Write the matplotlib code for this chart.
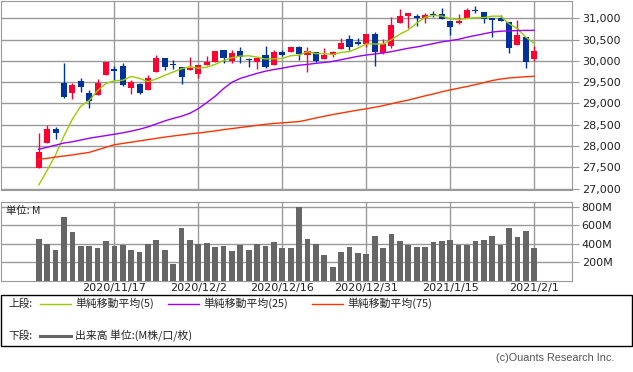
import numpy as np
import matplotlib.pyplot as plt
from matplotlib.patches import Rectangle
from matplotlib.lines import Line2D

# trading days (US), one candle each
dates = ['2020/11/4', '2020/11/5', '2020/11/6', '2020/11/9', '2020/11/10', '2020/11/11', '2020/11/12',
         '2020/11/13', '2020/11/16', '2020/11/17', '2020/11/18', '2020/11/19', '2020/11/20', '2020/11/23',
         '2020/11/24', '2020/11/25', '2020/11/27', '2020/11/30', '2020/12/1', '2020/12/2', '2020/12/3',
         '2020/12/4', '2020/12/7', '2020/12/8', '2020/12/9', '2020/12/10', '2020/12/11', '2020/12/14',
         '2020/12/15', '2020/12/16', '2020/12/17', '2020/12/18', '2020/12/21', '2020/12/22', '2020/12/23',
         '2020/12/24', '2020/12/28', '2020/12/29', '2020/12/30', '2020/12/31', '2021/1/4', '2021/1/5',
         '2021/1/6', '2021/1/7', '2021/1/8', '2021/1/11', '2021/1/12', '2021/1/13', '2021/1/14',
         '2021/1/15', '2021/1/19', '2021/1/20', '2021/1/21', '2021/1/22', '2021/1/25', '2021/1/26',
         '2021/1/27', '2021/1/28', '2021/1/29', '2021/2/1']

opens = [27494, 28081, 28402, 29483, 29248, 29530, 29240, 29201, 29671, 29812,
         29883, 29366, 29460, 29327, 29750, 30071, 29930, 29859, 29797, 29703,
         29914, 29977, 30259, 30000, 30235, 30047, 29977, 30141, 29906, 30212,
         30212, 30329, 30141, 30212, 30047, 30141, 30282, 30517, 30423, 30400,
         30635, 30188, 30353, 30893, 31058, 31042, 31011, 31105, 31105, 30941,
         30893, 31011, 31207, 31152, 31011, 31011, 30917, 30376, 30564, 30047]
highs = [28316, 28504, 28449, 29961, 29483, 29601, 29319, 29577, 29985, 29891,
         29953, 29546, 29483, 29664, 30141, 30071, 30024, 29870, 30094, 29906,
         30118, 30235, 30259, 30259, 30329, 30071, 30079, 30361, 30259, 30259,
         30329, 30353, 30329, 30212, 30306, 30235, 30541, 30612, 30541, 30635,
         30682, 30517, 31034, 31223, 31129, 31105, 31129, 31176, 31246, 30941,
         31105, 31246, 31293, 31152, 31011, 31081, 30917, 30964, 30564, 30353]
lows = [27494, 28081, 28175, 29139, 29107, 29272, 28896, 29201, 29671, 29554,
        29413, 29225, 29225, 29327, 29750, 29797, 29812, 29468, 29797, 29609,
        29914, 29977, 29953, 29953, 29953, 29859, 29812, 29836, 29906, 30118,
        30212, 30024, 29750, 29977, 30047, 30094, 30282, 30259, 30376, 30329,
        29883, 30165, 30306, 30893, 30776, 30823, 30893, 31034, 30988, 30612,
        30870, 31011, 31129, 30893, 30564, 30941, 30188, 30376, 29836, 30000]
closes = [27854, 28402, 28316, 29154, 29436, 29389, 29060, 29483, 29985, 29765,
          29436, 29515, 29256, 29601, 30071, 29867, 29910, 29632, 29844, 29906,
          29977, 30235, 30079, 30188, 30094, 30016, 30079, 29852, 30212, 30141,
          30329, 30165, 30235, 30000, 30141, 30212, 30423, 30329, 30408, 30635,
          30212, 30400, 30846, 31058, 31129, 31019, 31081, 31074, 30988, 30800,
          30941, 31199, 31176, 30988, 30964, 30941, 30306, 30612, 29977, 30235]

sma5 = [27085, 27430, 27790, 28240, 28632, 28939, 29071, 29304, 29471, 29536,
        29546, 29637, 29591, 29515, 29576, 29662, 29741, 29816, 29865, 29832,
        29854, 29919, 30008, 30077, 30115, 30122, 30091, 30046, 30051, 30060,
        30123, 30140, 30216, 30174, 30174, 30151, 30202, 30221, 30303, 30401,
        30401, 30397, 30500, 30630, 30729, 30890, 31027, 31072, 31058, 30992,
        30977, 31000, 31021, 31021, 31054, 31054, 30875, 30762, 30560, 30414]
sma25 = [27924, 27970, 28020, 28070, 28100, 28140, 28183, 28215, 28245, 28277,
         28310, 28350, 28394, 28450, 28520, 28590, 28650, 28700, 28770, 28880,
         29020, 29170, 29350, 29500, 29590, 29650, 29710, 29760, 29800, 29830,
         29870, 29900, 29920, 29945, 29965, 29990, 30030, 30070, 30110, 30140,
         30165, 30190, 30220, 30260, 30300, 30330, 30370, 30410, 30450, 30480,
         30510, 30560, 30600, 30640, 30680, 30700, 30710, 30715, 30720, 30720]
sma75 = [27690, 27710, 27740, 27765, 27790, 27820, 27850, 27910, 27970, 28030,
         28060, 28090, 28120, 28150, 28180, 28210, 28235, 28260, 28285, 28305,
         28330, 28355, 28385, 28410, 28435, 28460, 28485, 28510, 28530, 28545,
         28560, 28575, 28615, 28660, 28700, 28740, 28775, 28810, 28845, 28875,
         28910, 28950, 28995, 29040, 29080, 29130, 29180, 29225, 29275, 29320,
         29360, 29400, 29445, 29490, 29540, 29575, 29600, 29615, 29630, 29640]

volume = [452, 401, 333, 691, 528, 376, 376, 354, 430, 376,
          387, 333, 311, 401, 441, 333, 181, 571, 441, 401,
          409, 365, 376, 322, 387, 333, 401, 376, 420, 354,
          354, 803, 452, 401, 278, 148, 311, 365, 300, 289,
          485, 354, 506, 430, 387, 365, 365, 420, 430, 441,
          387, 387, 430, 441, 485, 387, 571, 474, 539, 354]

UP = '#ff0033'
DOWN = '#003399'
GRID = '#999999'
JP = ['Noto Sans CJK JP', 'DejaVu Sans']

W, H = 633, 372
fig = plt.figure(figsize=(W / 100, H / 100), dpi=100)
ax = fig.add_axes([1 / W, 1 - 190 / H, 571 / W, 189.5 / H])
vax = fig.add_axes([1 / W, 1 - 280.5 / H, 571 / W, 78.8 / H], sharex=ax)

x = np.arange(len(closes))
o = np.array(opens)
c = np.array(closes)
colors = [UP if cc >= oo else DOWN for oo, cc in zip(o, c)]

# candles
ax.vlines(x, lows, highs, colors=colors, lw=1.0, zorder=3)
ax.bar(x, np.maximum(np.abs(c - o), 28), bottom=np.minimum(o, c), width=0.72,
       color=colors, zorder=3)

# moving averages
ax.plot(x, sma5, color='#99cc00', lw=1.0, zorder=4)
ax.plot(x, sma25, color='#9900ff', lw=1.0, zorder=4)
ax.plot(x, sma75, color='#ff3300', lw=1.0, zorder=4)

tick_idx = [i for i in x if i % 10 == 9]

ax.set_xlim(-4.5, 63.5)
ax.set_ylim(26965, 31423)
ax.set_yticks(range(27000, 31001, 500))
ax.set_yticklabels(['{:,}'.format(v) for v in range(27000, 31001, 500)])
ax.set_xticks(tick_idx)
ax.grid(True, color=GRID, lw=1.0, zorder=0)
ax.yaxis.tick_right()
ax.tick_params(axis='y', length=5, color=GRID, pad=2, labelsize=8, labelcolor='#222222')
ax.tick_params(axis='x', length=0, labelbottom=False)

# volume
vax.bar(x, volume, width=0.68, color='#666666', zorder=3)
vax.set_ylim(0, 858)
vax.set_yticks([200, 400, 600, 800])
vax.set_yticklabels(['200M', '400M', '600M', '800M'])
vax.set_xticks(tick_idx)
vax.set_xticklabels([dates[i] for i in tick_idx])
vax.grid(True, color=GRID, lw=1.0, zorder=0)
vax.yaxis.tick_right()
vax.tick_params(axis='y', length=5, color=GRID, pad=2, labelsize=8, labelcolor='#222222')
vax.tick_params(axis='x', length=0, pad=2, labelsize=8, labelcolor='#222222')
vax.text(0.008, 0.95, '単位: M', transform=vax.transAxes, ha='left', va='top',
         fontsize=7.5, family=JP, color='#222222')

for a in (ax, vax):
    for s in a.spines.values():
        s.set_color(GRID)

# legend box
fig.patches.append(Rectangle((0.5 / W, 1 - 346 / H), 631.5 / W, 51 / H, transform=fig.transFigure,
                             fill=False, edgecolor='black', lw=1.0))
row1 = 1 - 303.5 / H
row2 = 1 - 336 / H
fig.text(8 / W, row1, '上段:', fontsize=7.7, family=JP, va='center', color='#222222')
fig.text(8 / W, row2, '下段:', fontsize=7.7, family=JP, va='center', color='#222222')
items = [(40, '#99cc00', '単純移動平均(5)'), (168, '#9900ff', '単純移動平均(25)'),
         (312, '#ff3300', '単純移動平均(75)')]
for x0, col, label in items:
    fig.lines.append(Line2D([x0 / W, (x0 + 31) / W], [row1, row1], transform=fig.transFigure,
                            color=col, lw=1.0))
    fig.text((x0 + 35) / W, row1, label, fontsize=7.8, family=JP, va='center', color='#222222')
fig.lines.append(Line2D([40 / W, 71 / W], [row2, row2], transform=fig.transFigure,
                        color='#666666', lw=2.2))
fig.text(75 / W, row2, '出来高 単位:(M株/口/枚)', fontsize=7.8, family=JP, va='center', color='#222222')

fig.text(614 / W, 1 - 358 / H, '(c)Ouants Research Inc.', fontsize=7.8, ha='right', va='center',
         color='#555555', family=['Liberation Sans', 'DejaVu Sans'])

fig.savefig('out.png', dpi=100)
